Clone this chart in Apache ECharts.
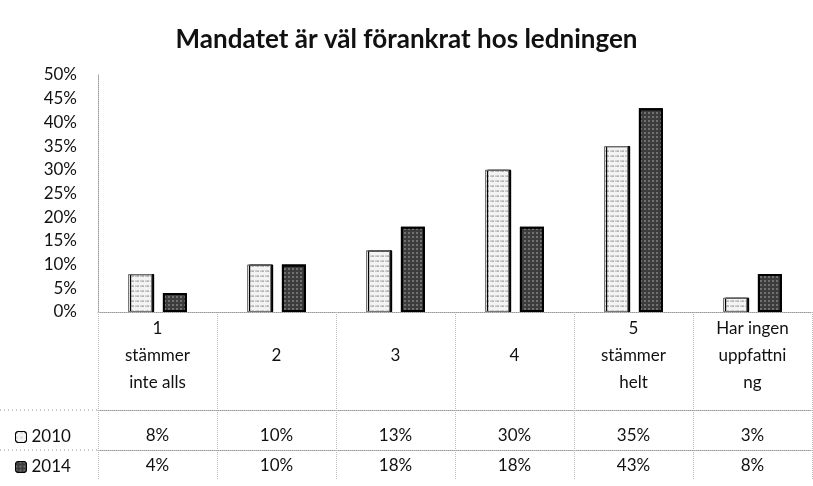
<!DOCTYPE html>
<html>
<head>
<meta charset="utf-8">
<script src="https://cdn.jsdelivr.net/npm/echarts@6/dist/echarts.min.js"></script>
<style>
  html, body { margin: 0; padding: 0; background: #fff; }
  #chart { width: 813px; height: 486px; }
</style>
</head>
<body>
<div id="chart"></div>
<script>
// Data
const categories = ['1\nstämmer\ninte alls', '2', '3', '4', '5\nstämmer\nhelt', 'Har ingen\nuppfattni\nng'];
const seriesNames = ['2010', '2014'];
const values2010 = [8, 10, 13, 30, 35, 3];
const values2014 = [4, 10, 18, 18, 43, 8];

const font = 'Lato, "Open Sans", sans-serif';
const dotted = { color: '#999', type: 'dotted', width: 1 };

const chart = echarts.init(document.getElementById('chart'));

const option = {
  animation: false,
  title: {
    text: 'Mandatet är väl förankrat hos ledningen',
    left: 'center',
    top: 22,
    textStyle: { fontFamily: font, fontSize: 26, fontWeight: 'bold', color: '#111' }
  },
  legend: {
    orient: 'vertical',
    left: 10,
    top: 422,
    itemWidth: 11,
    itemHeight: 11,
    itemGap: 10,
    itemStyle: { borderColor: '#000', borderWidth: 1 },
    data: seriesNames,
    textStyle: { fontFamily: font, fontSize: 17, color: '#111', lineHeight: 20 }
  },
  grid: { left: 98, right: 1, top: 75, bottom: 174 },
  xAxis: [
    {
      type: 'category',
      data: categories,
      axisLine: { lineStyle: dotted },
      axisTick: { show: true, length: 168, lineStyle: { color: '#bbb', type: 'dotted', width: 1 } },
      axisLabel: {
        interval: 0, margin: 44, verticalAlign: 'middle', lineHeight: 27,
        fontFamily: font, fontSize: 17, color: '#111'
      }
    },
    {
      type: 'category',
      position: 'bottom',
      offset: 98,
      data: values2010.map(v => v + '%'),
      axisLine: { lineStyle: dotted },
      axisTick: { show: false },
      axisLabel: {
        interval: 0, margin: 26, verticalAlign: 'middle',
        fontFamily: font, fontSize: 17, color: '#111'
      }
    },
    {
      type: 'category',
      position: 'bottom',
      offset: 138,
      data: values2014.map(v => v + '%'),
      axisLine: { lineStyle: dotted },
      axisTick: { show: false },
      axisLabel: {
        interval: 0, margin: 16, verticalAlign: 'middle',
        fontFamily: font, fontSize: 17, color: '#111'
      }
    }
  ],
  yAxis: {
    type: 'value',
    min: 0,
    max: 50,
    interval: 5,
    axisLine: { show: true, lineStyle: dotted },
    axisTick: { show: false },
    splitLine: { show: false },
    axisLabel: {
      formatter: '{value}%', margin: 21,
      fontFamily: font, fontSize: 17, color: '#111'
    }
  },
  series: [
    {
      name: seriesNames[0],
      type: 'bar',
      data: values2010,
      barWidth: 24,
      barGap: '45%',
      itemStyle: {
        color: '#f3f3f3',
        borderColor: '#777',
        borderWidth: 1,
        shadowColor: '#000',
        shadowOffsetX: 2,
        shadowBlur: 0,
        decal: {
          symbol: 'circle', symbolSize: 0.6, color: '#555',
          dashArrayX: [2, 3], dashArrayY: [2, 3]
        }
      }
    },
    {
      name: seriesNames[1],
      type: 'bar',
      data: values2014,
      barWidth: 24,
      itemStyle: {
        color: '#3c3c3c',
        borderColor: '#000',
        borderWidth: 2,
        decal: {
          symbol: 'circle', symbolSize: 0.7, color: '#cfcfcf',
          dashArrayX: [2, 2], dashArrayY: [2, 2]
        }
      }
    }
  ],
  graphic: [
    { type: 'line', shape: { x1: 0, y1: 410, x2: 98, y2: 410 }, style: { stroke: '#999', lineDash: [1, 3] } },
    { type: 'line', shape: { x1: 0, y1: 450, x2: 98, y2: 450 }, style: { stroke: '#999', lineDash: [1, 3] } }
  ]
};

chart.setOption(option);

window.addEventListener('resize', function() {
  chart.resize();
});
</script>
</body>
</html>
